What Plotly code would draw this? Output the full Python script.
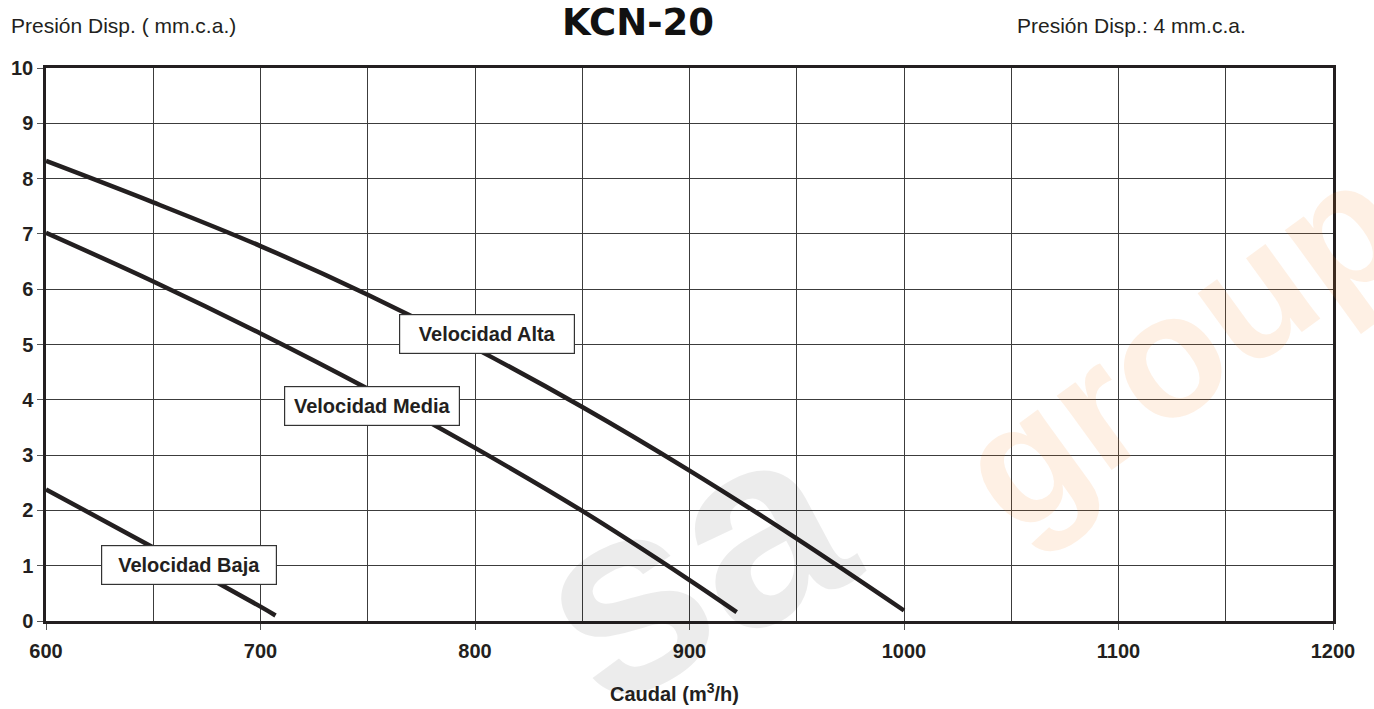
import plotly.graph_objects as go

# ---- data ----
alta_x = [600, 650, 700, 750, 800, 850, 900, 950, 1000]
alta_y = [8.32, 7.57, 6.78, 5.90, 4.93, 3.87, 2.72, 1.49, 0.19]

media_x = [600, 650, 700, 750, 800, 850, 900, 922]
media_y = [7.02, 6.14, 5.20, 4.20, 3.13, 1.99, 0.74, 0.16]

baja_x = [600, 650, 700, 707]
baja_y = [2.38, 1.33, 0.26, 0.10]

labels = ["Velocidad Alta", "Velocidad Media", "Velocidad Baja"]
label_x = [805.4, 752.2, 666.8]
label_y = [5.19, 3.89, 1.02]

x_ticks = [600, 700, 800, 900, 1000, 1100, 1200]
y_ticks = list(range(0, 11))

title = "KCN-20"
left_note = "Presión Disp. ( mm.c.a.)"
right_note = "Presión Disp.: 4 mm.c.a."
x_title = "Caudal (m<sup>3</sup>/h)"

INK = "#231f20"
FONT = "Liberation Sans, Arial, sans-serif"
L, R, T, B = 45.5, 41, 68, 88
PW, PH = 1374 - L - R, 709 - T - B


def px(x):
    return (x - L) / PW


def py(y):
    return (709 - B - y) / PH


fig = go.Figure()
for xs, ys in [(alta_x, alta_y), (media_x, media_y), (baja_x, baja_y)]:
    fig.add_trace(go.Scatter(x=xs, y=ys, mode="lines",
                             line=dict(color=INK, width=4.5, shape="spline", smoothing=1.0),
                             hoverinfo="skip", showlegend=False))

# watermarks (faint)
fig.add_annotation(text="<b>group</b>", xref="paper", yref="paper",
                   x=px(1180), y=py(345),
                   xanchor="center", yanchor="middle", textangle=-36, showarrow=False,
                   font=dict(family=FONT, size=175, color="rgba(245,130,32,0.12)"))
fig.add_annotation(text="<b>sa</b>", xref="paper", yref="paper",
                   x=px(690), y=py(560),
                   xanchor="center", yanchor="middle", textangle=-28, showarrow=False,
                   font=dict(family=FONT, size=270, color="rgba(0,0,0,0.075)"))

for t, lx, ly in zip(labels, label_x, label_y):
    fig.add_annotation(text="<b>%s</b>" % t, x=lx, y=ly, xref="x", yref="y",
                       showarrow=False, bgcolor="white", bordercolor="#333333",
                       borderwidth=1.2, borderpad=0, width=174, height=38,
                       font=dict(family=FONT, size=20, color=INK))

fig.add_annotation(text="<b>%s</b>" % title, xref="paper", yref="paper",
                   x=px(638), y=py(22),
                   xanchor="center", yanchor="middle", showarrow=False,
                   font=dict(family="DejaVu Sans", size=37, color="#111111"))
fig.add_annotation(text=left_note, xref="paper", yref="paper",
                   x=px(8), y=py(25),
                   xanchor="left", yanchor="middle", showarrow=False,
                   font=dict(family=FONT, size=21, color=INK))
fig.add_annotation(text=right_note, xref="paper", yref="paper",
                   x=px(1015), y=py(25),
                   xanchor="left", yanchor="middle", showarrow=False,
                   font=dict(family=FONT, size=21, color=INK))
fig.add_annotation(text="<b>%s</b>" % x_title, xref="paper", yref="paper",
                   x=px(674), y=py(692),
                   xanchor="center", yanchor="middle", showarrow=False,
                   font=dict(family=FONT, size=20, color=INK))

fig.update_xaxes(range=[600, 1200], tickvals=x_ticks, ticktext=["<b>%d</b>" % v for v in x_ticks],
                 showgrid=True, gridcolor="#3c3c3c", gridwidth=1,
                 minor=dict(dtick=50, showgrid=True, gridcolor="#3c3c3c", gridwidth=1),
                 showline=True, mirror=True, linecolor=INK, linewidth=2.5,
                 ticks="outside", ticklen=6, tickcolor="#555555", tickwidth=1,
                 ticklabelstandoff=4,
                 tickfont=dict(family=FONT, size=20, color=INK), zeroline=False,
                 fixedrange=True)
fig.update_yaxes(range=[0, 10], tickvals=y_ticks, ticktext=["<b>%d</b>" % v for v in y_ticks],
                 showgrid=True, gridcolor="#3c3c3c", gridwidth=1,
                 showline=True, mirror=True, linecolor=INK, linewidth=2.5,
                 ticks="outside", ticklen=6, tickcolor="#555555", tickwidth=1,
                 ticklabelstandoff=0,
                 tickfont=dict(family=FONT, size=20, color=INK), zeroline=False,
                 fixedrange=True)

fig.update_layout(width=1374, height=709,
                  margin=dict(l=L, r=R, t=T, b=B, autoexpand=False),
                  paper_bgcolor="white", plot_bgcolor="white",
                  showlegend=False)

fig.write_html("out.html", config={"displayModeBar": False},
               post_script="document.body.style.margin='0';document.body.style.overflow='hidden';")
